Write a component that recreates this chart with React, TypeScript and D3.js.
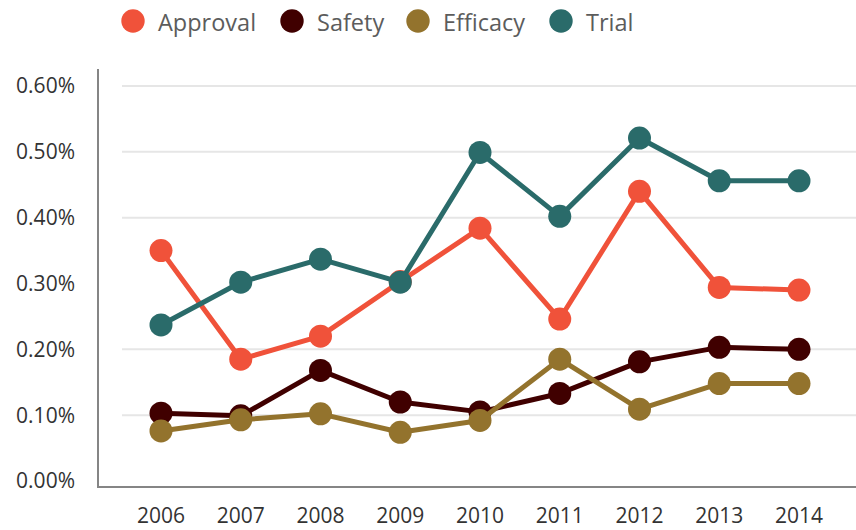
import React, { useEffect, useRef } from 'react';
import * as d3 from 'd3';

const years = ['2006', '2007', '2008', '2009', '2010', '2011', '2012', '2013', '2014'];
const approval = [0.350, 0.185, 0.220, 0.303, 0.384, 0.246, 0.440, 0.294, 0.290];
const safety = [0.103, 0.099, 0.168, 0.120, 0.105, 0.133, 0.181, 0.203, 0.200];
const efficacy = [0.076, 0.093, 0.102, 0.074, 0.092, 0.185, 0.109, 0.148, 0.148];
const trial = [0.237, 0.302, 0.337, 0.302, 0.499, 0.402, 0.521, 0.456, 0.456];
const seriesNames = ['Approval', 'Safety', 'Efficacy', 'Trial'];
const yTicks = [0, 0.1, 0.2, 0.3, 0.4, 0.5, 0.6];
// the 0.30% gridline is not drawn in the original
const gridTicks = [0.1, 0.2, 0.4, 0.5, 0.6];

const colors = ['#f0523a', '#400000', '#93732d', '#2a6b6a'];
const legendX = [133, 292, 418, 561];

export default function App() {
  const ref = useRef<SVGSVGElement>(null);

  useEffect(() => {
    const width = 856, height = 530;
    const svg = d3.select(ref.current).attr('width', width).attr('height', height);
    svg.selectAll('*').remove();

    const x = d3.scalePoint<string>().domain(years).range([161, 799]);
    const y = d3.scaleLinear().domain([0, 0.6]).range([481, 86]);
    const font = "'Open Sans', sans-serif";

    // gridlines
    svg.append('g').selectAll('line').data(gridTicks).join('line')
      .attr('x1', 122).attr('x2', width)
      .attr('y1', d => y(d)).attr('y2', d => y(d))
      .attr('stroke', '#e6e6e6').attr('stroke-width', 2);

    // axes lines
    svg.append('line').attr('x1', 98).attr('x2', 98).attr('y1', 69).attr('y2', 488)
      .attr('stroke', '#858585').attr('stroke-width', 2);
    svg.append('line').attr('x1', 97).attr('x2', width).attr('y1', 487).attr('y2', 487)
      .attr('stroke', '#858585').attr('stroke-width', 2);

    // y tick labels
    svg.append('g').selectAll('text').data(yTicks).join('text')
      .attr('x', 75).attr('y', d => y(d)).attr('dy', '0.35em')
      .attr('text-anchor', 'end').style('font-family', font).style('font-size', '21px')
      .attr('fill', '#333').text(d => d3.format('.2f')(d) + '%');

    // x tick labels
    svg.append('g').selectAll('text').data(years).join('text')
      .attr('x', d => x(d)!).attr('y', 523)
      .attr('text-anchor', 'middle').style('font-family', font).style('font-size', '21px')
      .attr('fill', '#333').text(d => d);

    const allSeries = [approval, safety, efficacy, trial];
    const line = d3.line<number>().x((_, i) => x(years[i])!).y(d => y(d));

    allSeries.forEach((vals, s) => {
      const g = svg.append('g');
      g.append('path').datum(vals).attr('d', line).attr('fill', 'none')
        .attr('stroke', colors[s]).attr('stroke-width', 5).attr('stroke-linejoin', 'round');
      g.selectAll('circle').data(vals).join('circle')
        .attr('cx', (_, i) => x(years[i])!).attr('cy', d => y(d)).attr('r', 11.5)
        .attr('fill', colors[s]);
    });

    // legend
    const legend = svg.append('g').selectAll('g').data(seriesNames).join('g')
      .attr('transform', (_, i) => `translate(${legendX[i]}, 21)`);
    legend.append('circle').attr('r', 11.7).attr('fill', (_, i) => colors[i]);
    legend.append('text').attr('x', 25).attr('y', 10)
      .style('font-family', font).style('font-size', '23.5px').attr('fill', '#5c5c5c')
      .text(d => d);
  }, []);

  return <svg ref={ref} style={{ position: 'absolute', left: 0, top: 0 }}></svg>;
}
